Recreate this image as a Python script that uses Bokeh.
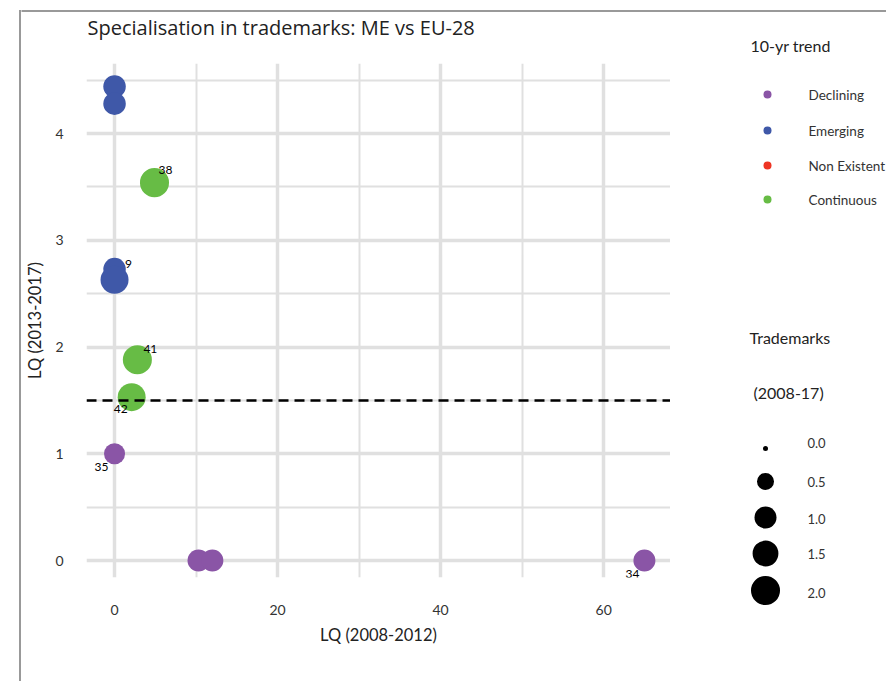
import math
from bokeh.plotting import figure
from bokeh.models import Range1d, FixedTicker, Span, ColumnDataSource
from bokeh.layouts import row, column
from bokeh.core.properties import value
from bokeh.embed import file_html
from bokeh.resources import INLINE

# ---------------- data ----------------
lq_2008_2012 = [0.0, 0.0, 0.0, 0.0, 4.9, 2.8, 2.1, 0.0, 10.3, 12.0, 65.0]
lq_2013_2017 = [4.44, 4.28, 2.73, 2.63, 3.54, 1.88, 1.53, 1.0, 0.0, 0.0, 0.0]
trend = ["Emerging", "Emerging", "Emerging", "Emerging",
         "Continuous", "Continuous", "Continuous",
         "Declining", "Declining", "Declining", "Declining"]
trademarks = [1.06, 1.06, 1.06, 1.83, 2.0, 2.0, 1.83, 0.89, 1.0, 1.0, 1.0]
point_labels = ["", "", "9", "", "38", "41", "42", "35", "", "", "34"]
threshold = 1.5

title_text = "Specialisation in trademarks: ME vs EU-28"
trend_title = "10-yr trend"
size_title = ["Trademarks", "(2008-17)"]
trend_categories = ["Declining", "Emerging", "Non Existent", "Continuous"]
size_breaks = [0.0, 0.5, 1.0, 1.5, 2.0]
size_break_labels = ["0.0", "0.5", "1.0", "1.5", "2.0"]
x_ticks = [0, 20, 40, 60]
x_minor = [10, 30, 50]
y_ticks = [0, 1, 2, 3, 4]
y_minor = [0.5, 1.5, 2.5, 3.5, 4.5]

# ---------------- styles / layout ----------------
trend_colors = ["#8A55A6", "#3F58A8", "#EE3524", "#67BC45"]
color_of = dict(zip(trend_categories, trend_colors))
FONT = "Lato"
GRID = "#e0e0e0"
FRAME_COL = "#999999"
label_dx = [0, 0, 14, 0, 11, 13, -11, -13, 0, 0, -12]
label_dy = [0, 0, -5, 0, -13, -11, 12, 13, 0, 0, 13]

TOTAL_W, TOTAL_H = 886, 681
TOP_H, LEFT_W = 55, 21
MAIN_RIGHT = 670


def size_px(v):
    return 5 + 17 * math.sqrt(v)


def blank(width, height, xr, yr):
    f = figure(width=width, height=height, x_range=Range1d(*xr), y_range=Range1d(*yr),
               output_backend="svg", toolbar_location=None, min_border=0, frame_align=False,
               x_axis_location=None, y_axis_location=None)
    f.grid.visible = False
    f.outline_line_color = None
    f.border_fill_color = "white"
    f.background_fill_color = "white"
    return f


# ---- left strip (full height): outer border ----
left = blank(LEFT_W, TOTAL_H, (0, LEFT_W), (TOTAL_H, 0))
left.segment(x0=[19.5, 18.5], y0=[9.5, 10.5], x1=[19.5, LEFT_W + 5], y1=[TOTAL_H + 10, 10.5],
             line_color=FRAME_COL, line_width=2)

# ---- top strip: outer border + title + colour-legend title ----
top = blank(TOTAL_W - LEFT_W, TOP_H, (LEFT_W, TOTAL_W), (TOP_H, 0))
top.segment(x0=[LEFT_W - 5], y0=[10.5], x1=[TOTAL_W + 5], y1=[10.5],
            line_color=FRAME_COL, line_width=2)
top.text(x=[87], y=[27], text=[title_text], text_font=value("Open Sans"), text_font_size="20px",
         text_color="#222222", text_baseline="middle")
top.text(x=[750], y=[45], text=[trend_title], text_font=value(FONT), text_font_size="16px",
         text_color="#222222", text_baseline="middle")

# ---- main plot ----
H_ROW = TOTAL_H - TOP_H
p = figure(width=MAIN_RIGHT - LEFT_W, height=H_ROW,
           x_range=Range1d(-3.44, 68.2), y_range=Range1d(-0.159, 4.656),
           output_backend="svg", toolbar_location=None, frame_align=False,
           min_border_left=86 - LEFT_W, min_border_right=0,
           min_border_top=63 - TOP_H, min_border_bottom=TOTAL_H - 577)
p.outline_line_color = None
p.border_fill_color = "white"

p.xaxis.ticker = FixedTicker(ticks=x_ticks, minor_ticks=x_minor)
p.yaxis.ticker = FixedTicker(ticks=y_ticks, minor_ticks=y_minor)
for g in (p.xgrid, p.ygrid):
    g.grid_line_color = GRID
    g.grid_line_width = 3.5
    g.minor_grid_line_color = GRID
    g.minor_grid_line_width = 2
for ax in (p.xaxis, p.yaxis):
    ax.axis_line_color = None
    ax.major_tick_line_color = None
    ax.minor_tick_line_color = None
    ax.major_tick_out = 0
    ax.minor_tick_out = 0
    ax.major_tick_in = 0
    ax.minor_tick_in = 0
    ax.major_label_text_font = FONT
    ax.major_label_text_font_size = "14px"
    ax.major_label_text_color = "#333333"
    ax.axis_label_text_font = FONT
    ax.axis_label_text_font_size = "16.5px"
    ax.axis_label_text_font_style = "normal"
    ax.axis_label_text_color = "#222222"
p.xaxis.axis_label = "LQ (2008-2012)"
p.yaxis.axis_label = "LQ (2013-2017)"
p.xaxis.major_label_standoff = 27
p.yaxis.major_label_standoff = 23
p.xaxis.axis_label_standoff = 7
p.yaxis.axis_label_standoff = 7

p.add_layout(Span(location=threshold, dimension="width", line_color="black",
                  line_width=2.5, line_dash="10 6"))

src = ColumnDataSource(dict(
    x=lq_2008_2012, y=lq_2013_2017,
    color=[color_of[t] for t in trend],
    size=[size_px(v) for v in trademarks],
    label=point_labels, dx=label_dx, dy=label_dy,
))
p.scatter("x", "y", size="size", fill_color="color", line_color=None, source=src)
p.text("x", "y", text="label", x_offset="dx", y_offset="dy", source=src,
       text_align="center", text_baseline="middle", text_font=value(FONT),
       text_font_size="12px", text_color="black")

# ---- legend panel ----
leg = blank(TOTAL_W - MAIN_RIGHT, H_ROW, (MAIN_RIGHT, TOTAL_W), (TOTAL_H, TOP_H))
trend_rows = [94, 130, 165, 199]
leg.scatter(x=[767] * 4, y=trend_rows, size=8, fill_color=trend_colors, line_color=None)
leg.text(x=[808] * 4, y=trend_rows, text=trend_categories, text_font=value(FONT),
         text_font_size="13.5px", text_color="#333333", text_baseline="middle")

leg.text(x=[749, 753], y=[337, 392], text=size_title, text_font=value(FONT),
         text_font_size="16px", text_color="#222222", text_baseline="middle")
size_rows = [448, 481, 517, 553, 590]
leg.scatter(x=[765] * 5, y=size_rows, size=[size_px(v) for v in size_breaks],
            fill_color="black", line_color=None)
leg.text(x=[807] * 5, y=[442, 481, 518, 553, 592], text=size_break_labels, text_font=value(FONT),
         text_font_size="13px", text_color="#333333", text_baseline="middle")

layout = row(left, column(top, row(p, leg)))
open("out.html", "w").write(file_html(layout, INLINE))
